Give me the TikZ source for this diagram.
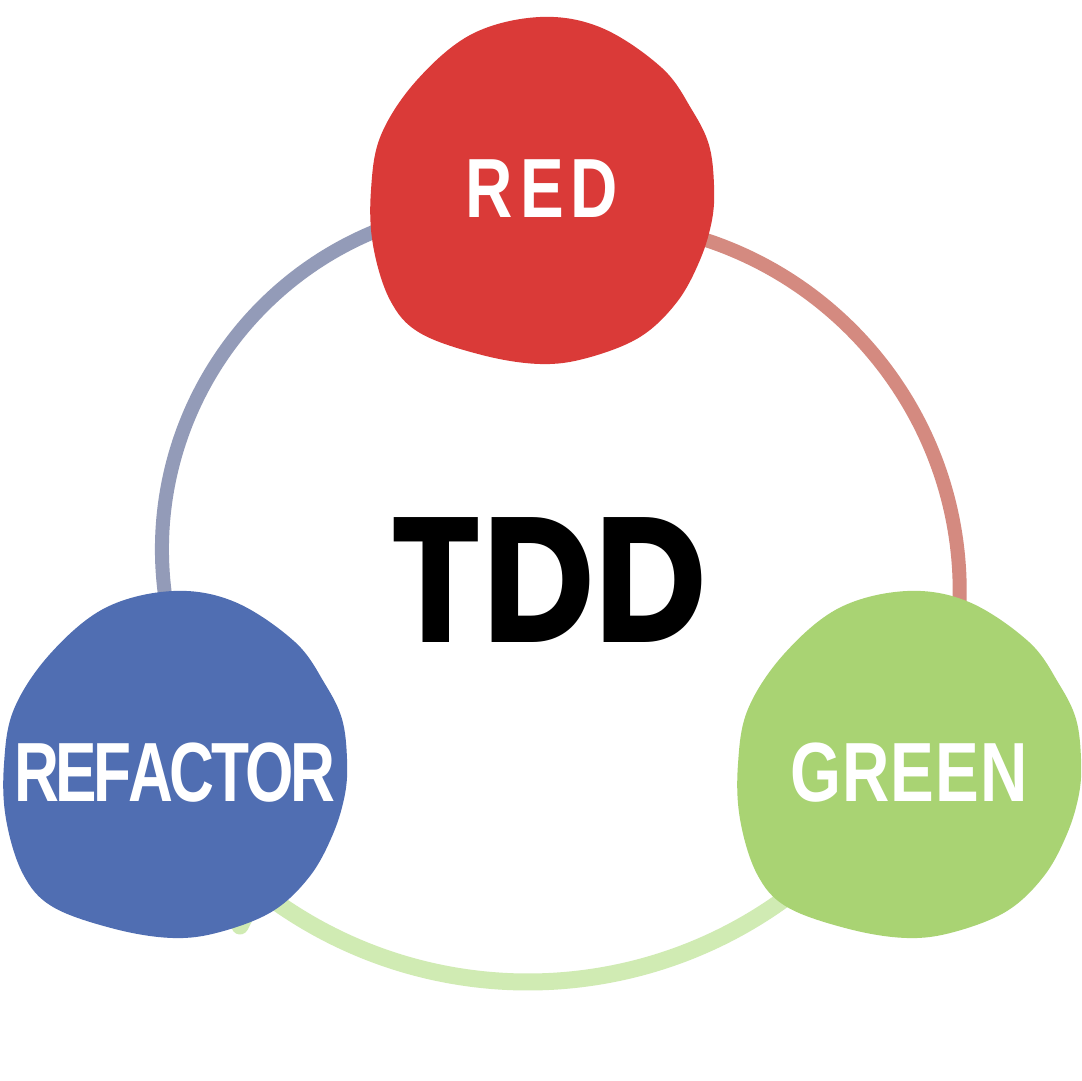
\documentclass[tikz,border=0pt]{standalone}
\usepackage{fontspec}
\newfontfamily\lblfont[FakeStretch=0.78]{Liberation Sans Bold}
\newfontfamily\lblnarrow[FakeStretch=0.74]{Liberation Sans Bold}
\newfontfamily\tddfont[FakeStretch=0.87]{Poppins}
\definecolor{redfill}{HTML}{DA3A38}
\definecolor{greenfill}{HTML}{A9D373}
\definecolor{bluefill}{HTML}{506EB2}
\definecolor{bluearc}{HTML}{939BB8}
\definecolor{redarc}{HTML}{D48A80}
\definecolor{greenarc}{HTML}{D0EBB3}
\tikzset{
  blobshape/.pic={
    \path[pic actions] plot[smooth cycle, tension=0.6] coordinates {
      (-2,-173) (60,-162) (120,-122) (150,-80) (167,-45) (172,-5) (170,30)
      (158,70) (135,112) (98,147) (45,168) (-2,174) (-60,165) (-122,143)
      (-152,110) (-169,55) (-171,0) (-161,-55) (-125,-110) (-70,-156)};
  },
  ringarc/.style={line width=14pt, line cap=round},
  lbl/.style={text=white, inner sep=0pt, anchor=base, font=\lblfont\fontsize{84}{84}\selectfont},
  lbln/.style={text=white, inner sep=0pt, anchor=base, font=\lblnarrow\fontsize{84}{84}\selectfont},
  title/.style={text=black, inner sep=0pt, anchor=base, font=\tddfont\bfseries\fontsize{178}{178}\selectfont}
}
\begin{document}
\begin{tikzpicture}[x=1pt, y=-1pt]
\fill[white] (0,0) rectangle (1082,1080);
\useasboundingbox (0,0) rectangle (1082,1080);
% ring arcs
\coordinate (cblue) at (506,549.5);
\coordinate (cred) at (589.7,591.3);
\coordinate (cgreen) at (528,545);
\draw[ringarc, bluearc] ([shift={(255:344)}]cblue) arc[start angle=255, end angle=168, radius=344];
\draw[ringarc, redarc] ([shift={(283:370)}]cred) arc[start angle=283, end angle=365, radius=370];
\draw[ringarc, greenarc, line width=17pt] (240,926) -- ([shift={(128:437)}]cgreen) arc[start angle=128, end angle=50, radius=437];
% blobs
\pic[fill=redfill] (redb) at (542,190) {blobshape};
\pic[fill=greenfill] (greenb) at (909,764) {blobshape};
\pic[fill=bluefill] (blueb) at (175,764) {blobshape};
% labels
\node[lbl] (redlbl) at (542,217) {R\kern7pt E\kern7pt D};
\node[lbl] (greenlbl) at (909,801) {G\kern1pt R\kern1pt E\kern1pt E\kern1pt N};
\node[lbln] (reflbl) at (175,801) {R\kern-3.5pt E\kern-3.5pt F\kern-3.5pt A\kern-3.5pt C\kern-3.5pt T\kern-3.5pt O\kern-3.5pt R};
\node[title] (tdd) at (549,642) {TDD};
\end{tikzpicture}
\end{document}
